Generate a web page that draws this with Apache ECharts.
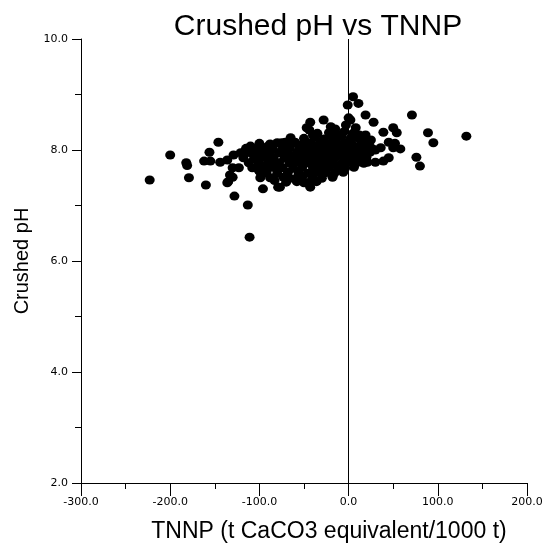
<!DOCTYPE html>
<html>
<head>
<meta charset="utf-8">
<script src="https://cdn.jsdelivr.net/npm/echarts@6/dist/echarts.min.js"></script>
<style>
  html, body { margin: 0; padding: 0; background: #fff; }
  #chart { width: 546px; height: 550px; }
</style>
</head>
<body>
<div id="chart"></div>
<script>
// TNNP (t CaCO3 equivalent / 1000 t) for each sample
const tnnp = [
  -223, -200, -182, -181, -179, -162, -160, -156, -155, -146, -144, -136, -136, -135, -133,
  -130, -130, -129, -128, -123, -121, -118, -113, -111, -110, -103, -101, -101, -99, -99,
  -96, -91, -90, -85, -82, -80, -79, -77, -73, -71, -60, -58, -49, -43, -43, -43, -40, -28, -28,
  -1, 5, 11, 19, 28, 39, 50, 54, 45, 52, 50, 58, 36, 19, 2, 0, 30, 30, 21, 45, 39,
  71, 89, 95, 132, 76, 80,
  -35, -22, -12, -5, 5, 12,
  -65, -50, -38, -28, -18, -8, 2, 10, 18,
  -100, -88, -75, -62, -52, -42, -32, -22, -14, -5, 4, 14, 22,
  -115, -105, -95, -85, -74, -66, -55, -46, -36, -26, -18, -9, 0, 8, 16, 26,
  -110, -98, -88, -78, -68, -58, -48, -38, -30, -20, -12, -3, 6, 15, 24,
  -118, -106, -94, -84, -72, -62, -52, -44, -34, -24, -16, -6, 3, 12, 20,
  -112, -100, -90, -78, -66, -56, -46, -38, -28, -18, -8, 0, 9, 17,
  -108, -95, -86, -74, -62, -52, -40, -32, -22, -12, -4, 6,
  -92, -80, -68, -56, -46, -36, -26, -16, -6,
  -88, -66, -52, -40, -30, -18,
  -70, -50, -36,
  -47, -44, -20, -15, 8, -3, 25, -57, -83
];

// Crushed pH for each sample (same order as tnnp)
const crushedPh = [
  7.46, 7.91, 7.77, 7.72, 7.50, 7.80, 7.37, 7.96, 7.80, 8.14, 7.78, 7.82, 7.41, 7.43, 7.55,
  7.68, 7.51, 7.91, 7.17, 7.68, 7.95, 7.95, 7.01, 6.43, 8.07, 7.82, 7.96, 7.64, 7.50, 7.60,
  7.30, 8.05, 8.07, 7.82, 7.68, 8.13, 7.33, 7.33, 7.51, 8.14, 8.14, 7.43, 8.14, 8.50, 7.43, 7.33, 8.27, 8.54, 7.64,
  8.81, 8.96, 8.84, 8.63, 8.50, 8.32, 8.40, 8.31, 8.14, 8.12, 8.04, 8.02, 8.04, 8.27, 8.54, 8.58, 8.00, 7.78, 7.78, 7.86, 7.80,
  8.63, 8.31, 8.13, 8.25, 7.87, 7.71,
  8.30, 8.31, 8.28, 8.33, 8.30, 8.27,
  8.22, 8.21, 8.23, 8.20, 8.22, 8.24, 8.21, 8.22, 8.20,
  8.12, 8.11, 8.13, 8.12, 8.10, 8.13, 8.12, 8.11, 8.13, 8.12, 8.10, 8.12, 8.11,
  8.03, 8.02, 8.04, 8.03, 8.02, 8.04, 8.03, 8.02, 8.04, 8.03, 8.02, 8.04, 8.03, 8.02, 8.04, 8.03,
  7.95, 7.94, 7.96, 7.95, 7.94, 7.96, 7.95, 7.94, 7.96, 7.95, 7.94, 7.96, 7.95, 7.94, 7.96,
  7.86, 7.85, 7.87, 7.86, 7.85, 7.87, 7.86, 7.85, 7.87, 7.86, 7.85, 7.87, 7.86, 7.85, 7.87,
  7.77, 7.76, 7.78, 7.77, 7.76, 7.78, 7.77, 7.76, 7.78, 7.77, 7.76, 7.78, 7.77, 7.76,
  7.68, 7.67, 7.69, 7.68, 7.67, 7.69, 7.68, 7.67, 7.69, 7.68, 7.67, 7.69,
  7.59, 7.58, 7.60, 7.59, 7.58, 7.60, 7.59, 7.58, 7.60,
  7.50, 7.49, 7.51, 7.50, 7.49, 7.51,
  7.42, 7.41, 7.43,
  8.40, 8.36, 8.42, 8.38, 8.40, 8.45, 8.18, 7.52, 7.45
];

const xTicks = { min: -300, max: 200, step: 100 };
const yTicks = { min: 2, max: 10, step: 2 };

const points = tnnp.map((x, i) => [x, crushedPh[i]]);

const font = '"Liberation Sans", Arial, sans-serif';
const tickFont = '"DejaVu Sans", sans-serif';
const chart = echarts.init(document.getElementById('chart'), null, { renderer: 'canvas' });

chart.setOption({
  animation: false,
  backgroundColor: '#ffffff',
  title: {
    text: 'Crushed pH vs TNNP',
    left: 313,
    top: 7,
    textAlign: 'center',
    textStyle: { fontFamily: font, fontSize: 30, fontWeight: 'normal', color: '#000' }
  },
  grid: { left: 81, right: 19, top: 39, bottom: 67, containLabel: false },
  xAxis: {
    type: 'value',
    min: xTicks.min,
    max: xTicks.max,
    interval: xTicks.step,
    name: 'TNNP (t CaCO3 equivalent/1000 t)',
    nameLocation: 'middle',
    nameGap: 37,
    nameTextStyle: { fontFamily: font, fontSize: 23, color: '#000', padding: [0, 0, 0, 50] },
    axisLine: { show: true, onZero: false, lineStyle: { color: '#000', width: 1 } },
    axisTick: { show: true, inside: false, length: 13, lineStyle: { color: '#000' } },
    minorTick: { show: true, splitNumber: 2, length: 6, lineStyle: { color: '#000' } },
    axisLabel: {
      margin: 14,
      fontFamily: tickFont, fontSize: 11, color: '#000',
      formatter: v => v.toFixed(1)
    },
    splitLine: { show: false },
    minorSplitLine: { show: false }
  },
  yAxis: {
    type: 'value',
    min: yTicks.min,
    max: yTicks.max,
    interval: yTicks.step,
    name: 'Crushed pH',
    nameLocation: 'middle',
    nameGap: 47,
    nameTextStyle: { fontFamily: font, fontSize: 20, color: '#000' },
    axisLine: { show: true, onZero: false, lineStyle: { color: '#000', width: 1 } },
    axisTick: { show: true, inside: false, length: 9, lineStyle: { color: '#000' } },
    minorTick: { show: true, splitNumber: 2, length: 6, lineStyle: { color: '#000' } },
    axisLabel: {
      margin: 13,
      fontFamily: tickFont, fontSize: 11, color: '#000',
      formatter: v => v.toFixed(1)
    },
    splitLine: { show: false },
    minorSplitLine: { show: false }
  },
  series: [{
    type: 'scatter',
    data: points,
    symbol: 'circle',
    symbolSize: [10, 9],
    itemStyle: { color: '#000', opacity: 1 },
    markLine: {
      silent: true,
      symbol: 'none',
      label: { show: false },
      lineStyle: { color: '#000', width: 1, type: 'solid' },
      data: [{ xAxis: 0 }]
    }
  }]
});
</script>
</body>
</html>
